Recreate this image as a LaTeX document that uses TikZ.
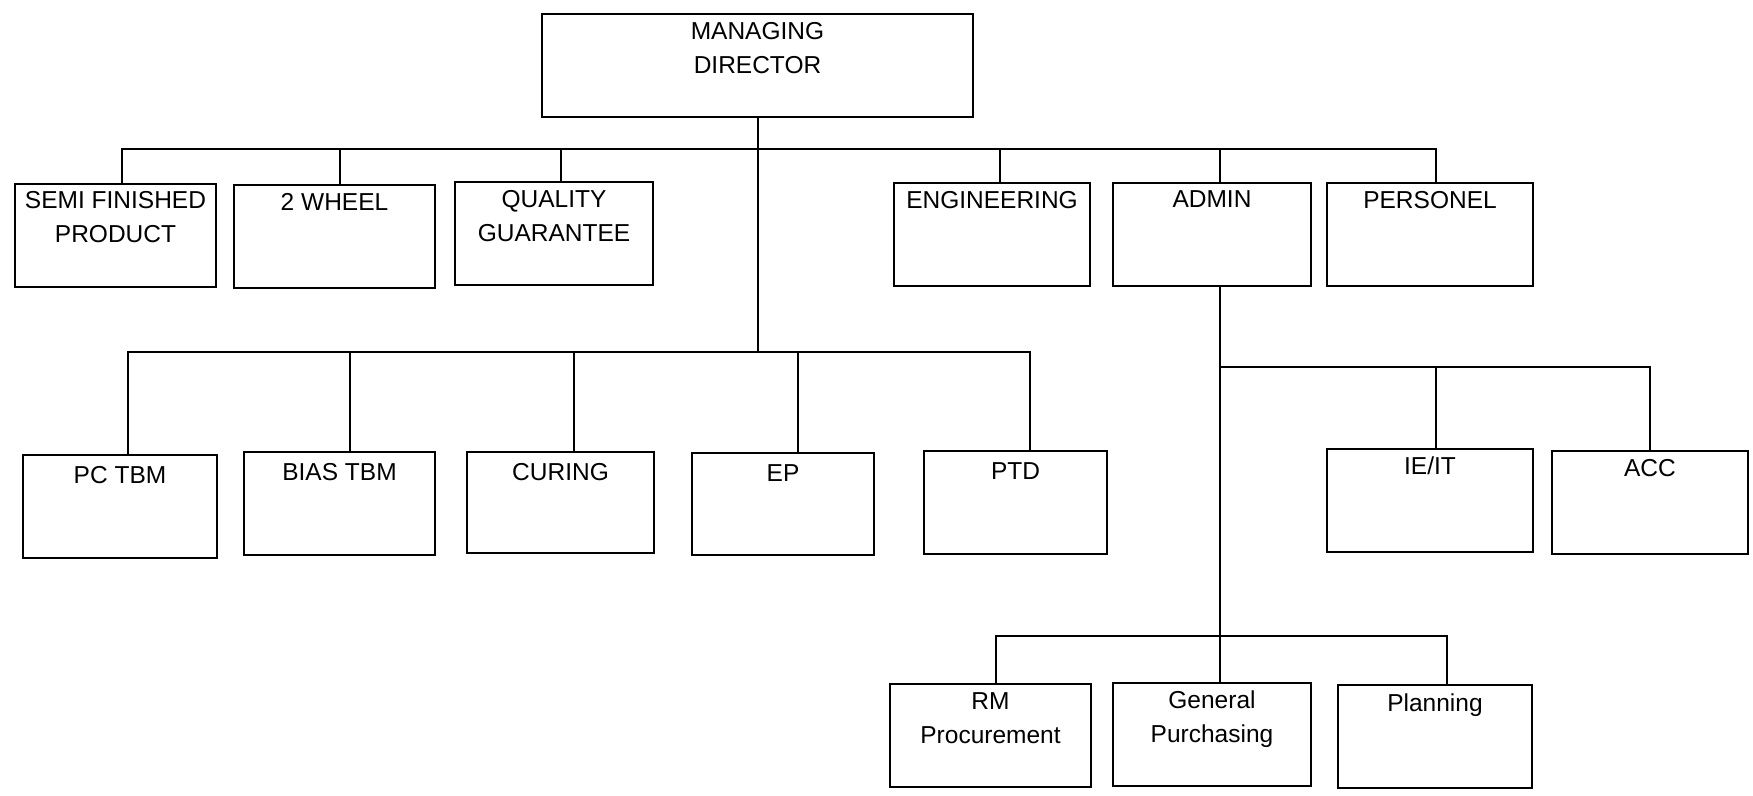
\documentclass[tikz,border=0pt]{standalone}
\usepackage{fontspec}
\setmainfont{Liberation Sans}
\begin{document}
\begin{tikzpicture}[x=1pt,y=-1pt,
  orgbox/.style={draw, line width=2.6pt, inner sep=0pt, minimum height=103pt},
  lbl/.style={anchor=north, inner sep=0pt, align=center, font=\fontsize{24.5}{34}\selectfont},
  conn/.style={line width=2.2pt}]
\useasboundingbox[fill=white] (0,0) rectangle (1753,795);
% boxes
\node[orgbox, minimum width=431pt] (md) at (757.5,65.5) {};
\node[orgbox, minimum width=201pt] (semi) at (115.5,235.5) {};
\node[orgbox, minimum width=201pt] (wheel) at (334.5,236.5) {};
\node[orgbox, minimum width=198pt] (qual) at (554,233.5) {};
\node[orgbox, minimum width=196pt] (eng) at (992,234.5) {};
\node[orgbox, minimum width=198pt] (admin) at (1212,234.5) {};
\node[orgbox, minimum width=206pt] (pers) at (1430,234.5) {};
\node[orgbox, minimum width=194pt] (pc) at (120,506.5) {};
\node[orgbox, minimum width=191pt] (bias) at (339.5,503.5) {};
\node[orgbox, minimum width=187pt, minimum height=101pt] (cur) at (560.5,502.5) {};
\node[orgbox, minimum width=182pt, minimum height=102pt] (ep) at (783,504) {};
\node[orgbox, minimum width=183pt] (ptd) at (1015.5,502.5) {};
\node[orgbox, minimum width=206pt] (ieit) at (1430,500.5) {};
\node[orgbox, minimum width=196pt] (acc) at (1650,502.5) {};
\node[orgbox, minimum width=201pt] (rm) at (990.5,735.5) {};
\node[orgbox, minimum width=198pt] (gp) at (1212,734.5) {};
\node[orgbox, minimum width=194pt] (plan) at (1435,736.5) {};
% labels
\node[lbl] (t-md) at ([yshift=-9pt]md.north) {MANAGING\\DIRECTOR};
\node[lbl] (t-semi) at ([yshift=-8pt]semi.north) {SEMI FINISHED\\PRODUCT};
\node[lbl] (t-wheel) at ([yshift=-9pt]wheel.north) {2 WHEEL};
\node[lbl] (t-qual) at ([yshift=-9pt]qual.north) {QUALITY\\GUARANTEE};
\node[lbl] (t-eng) at ([yshift=-9pt]eng.north) {ENGINEERING};
\node[lbl] (t-admin) at ([yshift=-9pt]admin.north) {ADMIN};
\node[lbl] (t-pers) at ([yshift=-9pt]pers.north) {PERSONEL};
\node[lbl] (t-pc) at ([yshift=-12.5pt]pc.north) {PC TBM};
\node[lbl] (t-bias) at ([yshift=-12.5pt]bias.north) {BIAS TBM};
\node[lbl] (t-cur) at ([yshift=-12.5pt]cur.north) {CURING};
\node[lbl] (t-ep) at ([yshift=-13pt]ep.north) {EP};
\node[lbl] (t-ptd) at ([yshift=-13pt]ptd.north) {PTD};
\node[lbl] (t-ieit) at ([yshift=-9pt]ieit.north) {IE/IT};
\node[lbl] (t-acc) at ([yshift=-9pt]acc.north) {ACC};
\node[lbl] (t-rm) at ([yshift=-10pt]rm.north) {RM\\Procurement};
\node[lbl] (t-gp) at ([yshift=-9pt]gp.north) {General\\Purchasing};
\node[lbl] (t-plan) at ([yshift=-10pt]plan.north) {Planning};
% junctions
\coordinate (j1) at (758,149);
\coordinate (j2) at (758,352);
\coordinate (j3) at (1220,367);
\coordinate (j4) at (1220,636);
% connectors
\draw[conn] ([xshift=0.5pt]md.south) -- (j1) -- (j2);
\draw[conn] (j1) -| ([xshift=6.5pt]semi.north);
\draw[conn] (j1) -| ([xshift=5.5pt]wheel.north);
\draw[conn] (j1) -| ([xshift=7pt]qual.north);
\draw[conn] (j1) -| ([xshift=8pt]eng.north);
\draw[conn] (j1) -| ([xshift=8pt]admin.north);
\draw[conn] (j1) -| ([xshift=6pt]pers.north);
\draw[conn] (j2) -| ([xshift=8pt]pc.north);
\draw[conn] (j2) -| ([xshift=10.5pt]bias.north);
\draw[conn] (j2) -| ([xshift=13.5pt]cur.north);
\draw[conn] (j2) -| ([xshift=15pt]ep.north);
\draw[conn] (j2) -| ([xshift=14.5pt]ptd.north);
\draw[conn] ([xshift=8pt]admin.south) -- ([xshift=8pt]gp.north);
\draw[conn] (j3) -| ([xshift=6pt]ieit.north);
\draw[conn] (j3) -| (acc.north);
\draw[conn] (j4) -| ([xshift=5.5pt]rm.north);
\draw[conn] (j4) -| ([xshift=12pt]plan.north);
\end{tikzpicture}
\end{document}
